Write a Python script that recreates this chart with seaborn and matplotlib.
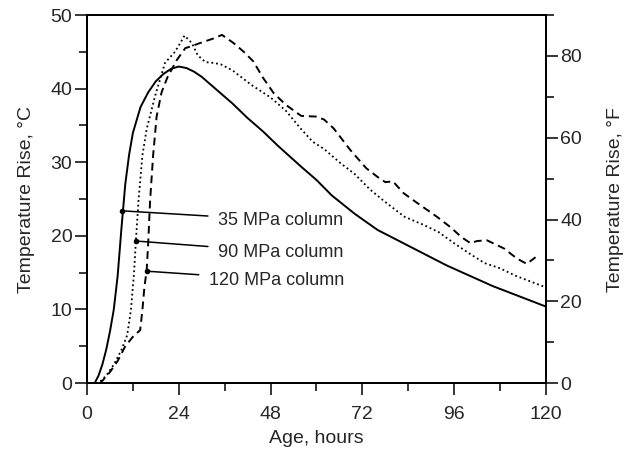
import numpy as np
import pandas as pd
import matplotlib
matplotlib.use("Agg")
import matplotlib.pyplot as plt
from matplotlib.ticker import MultipleLocator
import seaborn as sns

# temperature rise (deg C) vs age (hours)
age_35 = [0, 2, 3, 4, 5, 6, 7, 8, 9, 10, 11, 12, 14, 16, 18, 20, 22, 24, 26, 28,
          30, 34, 38, 42, 46, 50, 56, 60, 64, 70, 76, 82, 88, 94, 100, 106, 112, 116, 120]
rise_35 = [0, 0, 1, 2.5, 4.5, 7, 10, 14.5, 21, 27, 31, 34, 37.5, 39.5, 41, 42, 42.7, 43, 42.8, 42.3,
           41.6, 39.8, 38, 36, 34.2, 32.2, 29.4, 27.6, 25.5, 23, 20.8, 19.2, 17.6, 16, 14.6, 13.2, 12, 11.2, 10.4]

age_90 = [0, 3, 5, 7, 9, 10.5, 11.5, 12.3, 12.8, 13.5, 14.5, 15.6, 17.8, 20.4, 23, 24.5, 25.5,
          27.4, 29, 31, 33, 35, 38, 43, 48, 52, 56, 59, 62, 66, 70, 74, 78, 83, 88, 92, 96,
          100, 104, 108, 112, 116, 120]
rise_90 = [0, 0, 1, 2.5, 4.5, 6.5, 10, 15, 19.5, 25, 31, 34.5, 39, 43.5, 45, 46.3, 47.2,
           46.2, 44.5, 43.6, 43.5, 43.3, 42.5, 40.5, 38.8, 37, 34.5, 32.8, 31.8, 30, 28.4, 26.3, 24.6, 22.6, 21.5, 20.5, 19,
           17.6, 16.3, 15.6, 14.6, 13.8, 13.0]

age_120 = [0, 3.5, 6, 8, 10, 12, 13.9, 14.5, 15, 15.6, 16, 16.5, 17.3, 18.2, 19.5, 21, 23.5, 25.7,
           27.5, 29.6, 33, 35.3, 38.3, 41, 43.5, 46, 48.8, 52, 56, 60, 62, 64.5, 68.8, 73, 76, 78,
           80, 82.8, 86, 91.5, 95, 98, 100.3, 102, 104.6, 107, 109, 112.5, 115, 117.3]
rise_120 = [0, 0, 1.5, 3, 5, 6.3, 7.2, 10, 13, 15.3, 19, 24.8, 31, 36.2, 39.5, 41.5, 43.9, 45.5,
            45.8, 46.2, 46.8, 47.3, 46.2, 45, 43.7, 41.5, 39.4, 37.8, 36.3, 36.2, 35.8, 34.6, 31.7, 29.2, 28, 27.3,
            27.4, 25.8, 24.6, 22.6, 21.2, 19.8, 19.0, 19.3, 19.4, 18.8, 18.3, 16.9, 16.2, 17.1]

labels = ["35 MPa column", "90 MPa column", "120 MPa column"]

# callout anchors on the curves and where the label text sits
callout_xy = [(9.2, 23.4), (12.8, 19.3), (15.7, 15.2)]
callout_text = [(34.3, 22.1), (34.3, 17.8), (31.9, 14.0)]

sns.set_style("ticks")
plt.rcParams["font.family"] = ["Liberation Sans", "DejaVu Sans"]

fig = plt.figure(figsize=(6.26, 4.55), dpi=100)
ax = fig.add_axes([0.139, 0.158, 0.733, 0.809])

styles = ["-", (0, (1, 1.6)), (0, (4, 2.5))]
widths = [1.4, 1.3, 1.4]
series = [(age_35, rise_35), (age_90, rise_90), (age_120, rise_120)]
for (a, r), ls, lw in zip(series, styles, widths):
    df = pd.DataFrame({"age": a, "rise": r})
    sns.lineplot(data=df, x="age", y="rise", ax=ax, color="black",
                 linestyle=ls, linewidth=lw)

for lab, xy, txt in zip(labels, callout_xy, callout_text):
    ax.annotate(lab, xy=xy, xytext=txt, fontsize=13, va="center", ha="left",
                arrowprops=dict(arrowstyle="-", color="black", lw=1.1,
                                shrinkA=5, shrinkB=0))
    ax.plot([xy[0]], [xy[1]], marker="o", color="black", markersize=3)

ax.set_xlim(0, 120)
ax.set_ylim(0, 50)
ax.xaxis.set_major_locator(MultipleLocator(24))
ax.xaxis.set_minor_locator(MultipleLocator(12))
ax.yaxis.set_major_locator(MultipleLocator(10))
ax.yaxis.set_minor_locator(MultipleLocator(5))
ax.tick_params(which="major", length=8.5, width=1.3, labelsize=14, direction="out")
ax.tick_params(which="minor", length=6, width=1.3, direction="out")
ax.tick_params(axis="y", which="major", pad=2)
ax.tick_params(axis="x", which="major", pad=8)
ax.set_xlabel("Age, hours", fontsize=14, labelpad=5)
ax.set_ylabel("Temperature Rise, °C", fontsize=14, labelpad=11)

ax2 = ax.twinx()
ax2.set_ylim(0, 50 * 1.8)
ax2.yaxis.set_major_locator(MultipleLocator(20))
ax2.yaxis.set_minor_locator(MultipleLocator(10))
ax2.tick_params(which="major", length=8.5, width=1.3, labelsize=14, direction="out", pad=2)
ax2.tick_params(which="minor", length=6, width=1.3, direction="out")
ax2.set_ylabel("Temperature Rise, °F", fontsize=14, labelpad=18)

for a in (ax, ax2):
    for s in a.spines.values():
        s.set_linewidth(1.4)
        s.set_color("black")
        s.set_visible(True)

fig.savefig("out.png", dpi=100)
